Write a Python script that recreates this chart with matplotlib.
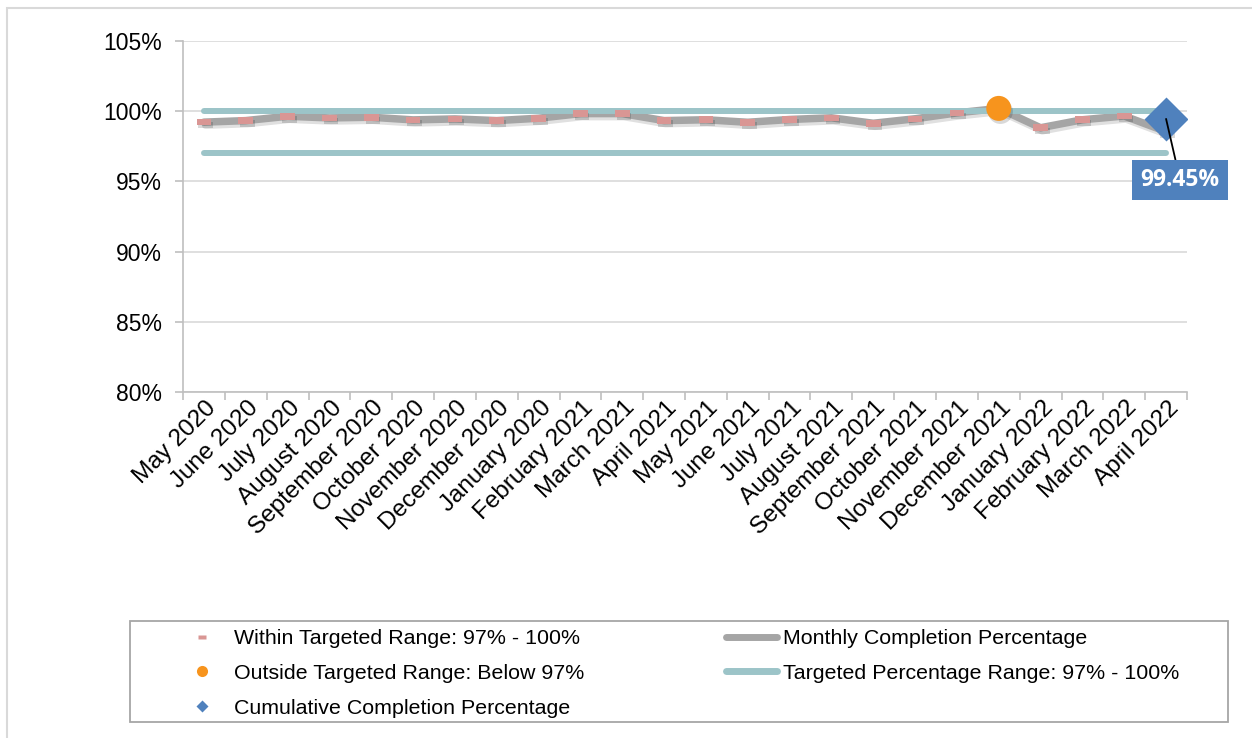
import numpy as np
import matplotlib
matplotlib.use("Agg")
import matplotlib.pyplot as plt
import matplotlib.patheffects as pe
import matplotlib.transforms as mtransforms
from matplotlib.lines import Line2D
from matplotlib.patches import Rectangle

plt.rcParams['font.family'] = ['Liberation Sans', 'DejaVu Sans']

months = ["May 2020", "June 2020", "July 2020", "August 2020", "September 2020",
          "October 2020", "November 2020", "December 2020", "January 2020",
          "February 2021", "March 2021", "April 2021", "May 2021", "June 2021",
          "July 2021", "August 2021", "September 2021", "October 2021",
          "November 2021", "December 2021", "January 2022", "February 2022",
          "March 2022", "April 2022"]
monthly = [99.22, 99.33, 99.64, 99.52, 99.57, 99.38, 99.45, 99.33, 99.50, 99.83,
           99.83, 99.33, 99.39, 99.21, 99.41, 99.53, 99.14, 99.46, 99.88, 100.20,
           98.82, 99.39, 99.66, 98.55]
within = [99.22, 99.33, 99.64, 99.52, 99.57, 99.38, 99.45, 99.33, 99.50, 99.83,
          99.83, 99.33, 99.39, 99.21, 99.41, 99.53, 99.14, 99.46, 99.88, np.nan,
          98.82, 99.39, 99.66, 98.55]
outside = [np.nan] * 19 + [100.20] + [np.nan] * 4
cumulative = [np.nan] * 23 + [99.45]
target_upper = [100.0] * 24
target_lower = [97.0] * 24
yticks = [80, 85, 90, 95, 100, 105]

W, H = 1252, 738
fig = plt.figure(figsize=(W / 100, H / 100), dpi=100)
ax = fig.add_axes([183 / W, 1 - 392 / H, (1187 - 183) / W, (392 - 41) / H])

x = np.arange(len(months))

GRAY = '#A5A5A5'
TEAL = '#9CC4C8'
PINK = '#D99694'
ORANGE = '#F7941D'
BLUE = '#4F81BD'

shadow_line = [pe.SimpleLineShadow(offset=(1.2, -2.2), shadow_color='k', alpha=0.12), pe.Normal()]
shadow_patch = [pe.SimplePatchShadow(offset=(1.2, -2.2), shadow_rgbFace='k', alpha=0.15), pe.Normal()]

ax.plot(x, monthly, color=GRAY, lw=5.4, solid_capstyle='round', solid_joinstyle='round',
        zorder=3, path_effects=shadow_line)
ax.plot(x, target_upper, color=TEAL, lw=4.3, solid_capstyle='round', zorder=4)
ax.plot(x, target_lower, color=TEAL, lw=4.3, solid_capstyle='round', zorder=4)

rect_marker = [(-1, -0.45), (1, -0.45), (1, 0.45), (-1, 0.45), (-1, -0.45)]
ax.plot(x, within, ls='none', marker=rect_marker, ms=10.5, mfc=PINK, mec='none',
        zorder=5, path_effects=shadow_patch)
ax.plot(x, outside, ls='none', marker='o', ms=18, mfc=ORANGE, mec='none',
        zorder=6, path_effects=shadow_patch)
ax.plot(x, cumulative, ls='none', marker='D', ms=22, mfc=BLUE, mec='none', zorder=7)

ax.annotate(f"{cumulative[-1]:.2f}%", xy=(x[-1], cumulative[-1]), xytext=(14, -61),
            textcoords='offset pixels', ha='center', va='center', color='white',
            fontsize=16.5, fontweight='bold', family=['Open Sans', 'DejaVu Sans'],
            bbox=dict(boxstyle='square,pad=0.36', fc=BLUE, ec='none'),
            arrowprops=dict(arrowstyle='-', color='black', lw=1.3, shrinkA=0, shrinkB=0),
            zorder=8, annotation_clip=False)

ax.set_xlim(-0.5, len(months) - 0.5)
ax.set_ylim(80, 105)
ax.set_yticks(yticks)
ax.set_yticklabels([f"{v}%" for v in yticks], fontsize=16.5)
ax.set_xticks(x)
ax.set_xticklabels(months, rotation=45, ha='right', va='center', rotation_mode='anchor',
                   fontsize=17.5)
ax.set_xticks(np.arange(-0.5, len(months)), minor=True)
ax.tick_params(axis='x', which='major', length=0, pad=9)
ax.tick_params(axis='x', which='minor', length=6, color='#BFBFBF', width=1.2)
ax.tick_params(axis='y', length=6, color='#BFBFBF', width=1.2, pad=9)
shift = mtransforms.ScaledTranslation(9 / 100, 0, fig.dpi_scale_trans)
for lab in ax.get_xticklabels():
    lab.set_transform(lab.get_transform() + shift)
ax.grid(axis='y', color='#D9D9D9', lw=1.2, zorder=0)
ax.set_axisbelow(True)
for s in ['top', 'right']:
    ax.spines[s].set_visible(False)
for s in ['left', 'bottom']:
    ax.spines[s].set_color('#BFBFBF')
    ax.spines[s].set_linewidth(1.2)

# outer chart border
fig.add_artist(Rectangle((7 / W, -0.05), 1.1, 1 - 8 / H + 0.05, transform=fig.transFigure,
                         fill=False, ec='#D9D9D9', lw=1.5))

# legend frame
fig.add_artist(Rectangle((130 / W, 1 - 722 / H), 1098 / W, 101 / H, transform=fig.transFigure,
                         fill=False, ec='#A6A6A6', lw=1.3))

handles = [
    Line2D([], [], ls='none', marker=rect_marker, ms=6, mfc=PINK, mec='none'),
    Line2D([], [], ls='none', marker='o', ms=8, mfc=ORANGE, mec='none'),
    Line2D([], [], ls='none', marker='D', ms=6, mfc=BLUE, mec='none'),
    Line2D([], [], color=GRAY, lw=5, solid_capstyle='round'),
    Line2D([], [], color=TEAL, lw=5, solid_capstyle='round'),
]
labels = ["Within Targeted Range: 97% - 100%", "Outside Targeted Range: Below 97%",
          "Cumulative Completion Percentage", "Monthly Completion Percentage",
          "Targeted Percentage Range: 97% - 100%"]
fig.legend(handles, labels, loc='upper left', bbox_to_anchor=(177 / W, 1 - 629 / H),
           ncol=2, frameon=False, fontsize=15.4, handlelength=2.38, handletextpad=0.3,
           columnspacing=6.6, labelspacing=0.74, borderpad=0, borderaxespad=0)

fig.savefig("out.png", dpi=100)
